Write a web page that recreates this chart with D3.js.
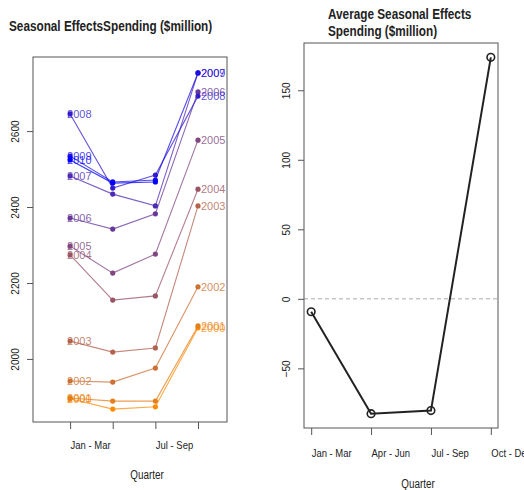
<!DOCTYPE html>
<html>
<head>
<meta charset="utf-8">
<title>Seasonal effects</title>
<script src="https://cdn.jsdelivr.net/npm/d3@7"></script>
<style>
  body{margin:0;background:#fff;}
  svg{display:block;font-family:"Liberation Sans",Arial,sans-serif;}
</style>
</head>
<body>
<div id="chart"></div>
<script>

// quarters and years
var quarters = ["Jan - Mar", "Apr - Jun", "Jul - Sep", "Oct - Dec"]
var years = [2000, 2001, 2002, 2003, 2004, 2005, 2006, 2007, 2008, 2009, 2010]

// spending ($million) per year, one value per quarter (2010 stops at Q3)
var spending = [
  [1895, 1868, 1874, 2082],
  [1897, 1889, 1889, 2087],
  [1942, 1939, 1976, 2190],
  [2047, 2018, 2029, 2403],
  [2274, 2155, 2166, 2447],
  [2297, 2226, 2276, 2576],
  [2371, 2342, 2382, 2703],
  [2482, 2434, 2403, 2753],
  [2645, 2450, 2484, 2692],
  [2534, 2466, 2471, 2753],
  [2524, 2463, 2466]
]
var leftTicks = [2000, 2200, 2400, 2600]

// average seasonal effect per quarter
var avgEffect = [-9.3, -82.6, -80.4, 173.7]
var rightTicks = [-50, 0, 50, 100, 150]

var W = 524, H = 490
var svg = d3.select("#chart").append("svg")
  .attr("width", W)
  .attr("height", H)

var yearColor = d3.scaleLinear()
  .domain([years[0], years[years.length-1]])
  .range(["#ff8c00", "#0000ff"])
  .interpolate(d3.interpolateRgb)

// squeeze text horizontally, the original picture looks compressed
function condense(sel, f){
  sel.each(function(){
    var w = this.getComputedTextLength()
    d3.select(this).attr("textLength", w*f).attr("lengthAdjust", "spacingAndGlyphs")
  })
}

// drop tick labels that run into the one before (like R does)
function dropOverlaps(sel){
  var lastEnd = -Infinity
  sel.each(function(){
    var b = this.getBoundingClientRect()
    if(b.left < lastEnd + 8){ d3.select(this).remove() }
    else { lastEnd = b.right }
  })
}

// rotated y tick labels, sitting left of the ticks
function styleYTicks(g){
  g.select(".domain").remove()
  g.selectAll("line").attr("stroke", "#555")
  g.selectAll("text")
    .attr("font-size", 11).attr("fill", "#222")
    .attr("x", -18).attr("y", 0).attr("dy", "0.35em")
    .attr("text-anchor", "middle")
    .attr("transform", "rotate(-90,-18,0)")
    .call(condense, 0.92)
}

function styleXTicks(g, ty){
  g.select(".domain").remove()
  g.selectAll("line").attr("stroke", "#555")
  g.selectAll("text")
    .attr("font-size", 11).attr("fill", "#222")
    .attr("text-anchor", "start").attr("y", ty).attr("dy", 0)
    .call(condense, 0.86)
  g.selectAll("text").call(dropOverlaps)
}

/* ---------------- left panel ---------------- */
var L = {left: 33, right: 227, top: 57, bottom: 422}
var lx = d3.scaleLinear().domain([0.13, 4.68]).range([L.left, L.right])
var ly = d3.scaleLinear().domain([1834, 2795]).range([L.bottom, L.top])

svg.append("text")
  .attr("x", 9).attr("y", 31)
  .attr("font-size", 14).attr("font-weight", "bold").attr("fill", "#222")
  .text("Seasonal EffectsSpending ($million)")
  .call(condense, 0.84)

var lineL = d3.line().x((d, i) => lx(i+1)).y(d => ly(d))

var yearG = svg.append("g").selectAll("g")
  .data(spending)
  .enter().append("g")
  .attr("fill", (d, i) => yearColor(years[i]))
  .attr("stroke", (d, i) => yearColor(years[i]))

yearG.append("path")
  .attr("d", d => lineL(d))
  .attr("fill", "none")
  .attr("stroke-width", 1.1)
  .attr("stroke-opacity", 0.75)

yearG.selectAll("circle")
  .data(d => d)
  .enter().append("circle")
  .attr("cx", (d, i) => lx(i+1))
  .attr("cy", d => ly(d))
  .attr("r", 2.6)
  .attr("stroke", "none")

// year labels at the start
yearG.append("text")
  .attr("x", lx(1) - 3)
  .attr("y", d => ly(d[0]))
  .attr("dy", "0.36em")
  .attr("font-size", 11)
  .attr("stroke", "none")
  .attr("fill-opacity", 0.8)
  .text((d, i) => years[i])

// year labels at the end (complete years only)
yearG.filter(d => d.length === 4).append("text")
  .attr("x", lx(4) + 3)
  .attr("y", d => ly(d[3]))
  .attr("dy", "0.36em")
  .attr("font-size", 11)
  .attr("stroke", "none")
  .attr("fill-opacity", 0.8)
  .text(function(d){ return years[spending.indexOf(d)] })

svg.append("rect")
  .attr("x", L.left).attr("y", L.top)
  .attr("width", L.right-L.left).attr("height", L.bottom-L.top)
  .attr("fill", "none").attr("stroke", "#555")

svg.append("g").attr("transform", `translate(${L.left},0)`)
  .call(d3.axisLeft(ly).tickValues(leftTicks).tickSize(6).tickFormat(d3.format("d")))
  .call(styleYTicks)

svg.append("g").attr("transform", `translate(0,${L.bottom})`)
  .call(d3.axisBottom(lx).tickValues([1, 2, 3, 4]).tickSize(7).tickFormat((d, i) => quarters[i]))
  .call(styleXTicks, 27)

svg.append("text")
  .attr("x", 147).attr("y", 479)
  .attr("text-anchor", "middle")
  .attr("font-size", 12).attr("fill", "#222")
  .text("Quarter")
  .call(condense, 0.82)

/* ---------------- right panel ---------------- */
var R = {left: 304, right: 498, top: 43, bottom: 428}
var rx = d3.scaleLinear().domain([0.88, 4.12]).range([R.left, R.right])
var ry = d3.scaleLinear().domain([-92.9, 184]).range([R.bottom, R.top])

var rTitle = svg.append("text")
  .attr("font-size", 14).attr("font-weight", "bold").attr("fill", "#222")
rTitle.append("tspan").attr("x", 328).attr("y", 18.5).text("Average Seasonal Effects")
rTitle.append("tspan").attr("x", 328).attr("y", 36).text("Spending ($million)")
rTitle.selectAll("tspan").call(condense, 0.84)

svg.append("line")
  .attr("x1", R.left).attr("x2", R.right)
  .attr("y1", ry(0)).attr("y2", ry(0))
  .attr("stroke", "#aaa").attr("stroke-dasharray", "4,3")

svg.append("path")
  .datum(avgEffect)
  .attr("d", d3.line().x((d, i) => rx(i+1)).y(d => ry(d)))
  .attr("fill", "none").attr("stroke", "#222").attr("stroke-width", 2)

svg.append("g").selectAll("circle")
  .data(avgEffect)
  .enter().append("circle")
  .attr("cx", (d, i) => rx(i+1))
  .attr("cy", d => ry(d))
  .attr("r", 3.8)
  .attr("fill", "none").attr("stroke", "#222").attr("stroke-width", 1.6)

svg.append("rect")
  .attr("x", R.left).attr("y", R.top)
  .attr("width", R.right-R.left).attr("height", R.bottom-R.top)
  .attr("fill", "none").attr("stroke", "#555")

svg.append("g").attr("transform", `translate(${R.left},0)`)
  .call(d3.axisLeft(ry).tickValues(rightTicks).tickSize(6).tickFormat(d3.format("d")))
  .call(styleYTicks)

svg.append("g").attr("transform", `translate(0,${R.bottom})`)
  .call(d3.axisBottom(rx).tickValues([1, 2, 3, 4]).tickSize(7).tickFormat((d, i) => quarters[i]))
  .call(styleXTicks, 29)

svg.append("text")
  .attr("x", 418).attr("y", 488)
  .attr("text-anchor", "middle")
  .attr("font-size", 12).attr("fill", "#222")
  .text("Quarter")
  .call(condense, 0.82)

</script>
</body>
</html>
